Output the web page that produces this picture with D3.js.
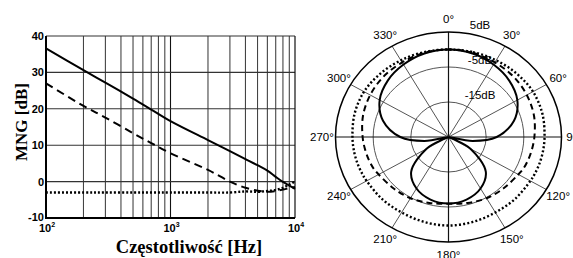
<!DOCTYPE html>
<html>
<head>
<meta charset="utf-8">
<script src="https://cdn.jsdelivr.net/npm/d3@7"></script>
<style>
  body { margin: 0; background: #fff; }
  svg { display: block; }
  .tick_lbl { font-family: "Liberation Sans", Arial, sans-serif; font-weight: bold; font-size: 11px; }
  .pol_lbl { font-family: "Liberation Sans", Arial, sans-serif; font-size: 11.5px; }
  .title { font-family: "Liberation Serif", "Times New Roman", serif; font-weight: bold; }
</style>
</head>
<body>
<svg id="chart" width="573" height="258"></svg>
<script>
// ---- frequency response (left) ----
var freqs = [100, 200, 300, 500, 700, 1000, 2000, 3000, 4000, 5000, 6000, 7000, 8000, 9000, 10000];
var solid_db = [36.6, 30.6, 27.2, 22.8, 19.8, 16.6, 11.4, 8.4, 6.2, 4.5, 3.0, 1.3, -0.1, -1.1, -2.0];
var dashed_db = [27.0, 20.8, 17.6, 13.3, 10.6, 7.8, 3.2, 0.0, -1.7, -2.5, -2.8, -2.6, -2.2, -1.8, -1.5];
var dotted_db = [-3.0, -3.0, -3.0, -3.0, -3.0, -3.0, -3.0, -3.0, -2.7, -2.8, -2.6, -2.3, -1.7, -0.8, 0.0];
var y_ticks = [40, 30, 20, 10, 0, -10];
var x_decades = [2, 3, 4];

// ---- polar pattern (right), half pattern 0..180 deg, mirrored ----
var pol_angles = [0, 15, 30, 45, 60, 75, 90, 100, 108, 115, 120, 135, 150, 165, 180];
var pol_solid = [0, -0.3, -1.1, -2.2, -3.9, -7.0, -12.2, -18.5, -25, -23.5, -18.2, -11.0, -8.0, -6.5, -6.0];
var pol_dashed = [0, -0.1, -0.4, -0.6, -1.0, -1.5, -2.2, -2.6, -2.9, -3.2, -3.6, -4.3, -4.8, -5.5, -5.9];
var pol_dotted = [0, 0.1, 0.3, 0.6, 0.9, 0.8, 0.5, 0.4, 0.3, 0.2, 0.1, 0.0, -0.1, 0.1, 0.3];
var ring_db = [-15, -5, 5];
var ring_labels = ["-15dB", "-5dB", "5dB"];
var spoke_angles = d3.range(0, 360, 30);

var svg = d3.select("#chart");

// ================= left chart =================
var x = d3.scaleLog().domain([100, 10000]).range([46, 295]);
var y = d3.scaleLinear().domain([-10, 40]).range([218, 36]);

var left = svg.append("g").attr("class", "left_plot");

// vertical grid on every 1..9 x decade
var vgrid = [];
for (var p = 100; p < 10000; p *= 10) {
    for (var m = 2; m <= 9; m++) vgrid.push(p * m);
}
vgrid.push(1000);
left.selectAll("line.vgrid").data(vgrid)
    .enter().append("line")
    .attr("class", "vgrid")
    .attr("x1", function (d) { return x(d); })
    .attr("x2", function (d) { return x(d); })
    .attr("y1", y(40)).attr("y2", y(-10))
    .style("stroke", function (d) { return d === 1000 ? "#111" : "#444"; })
    .style("stroke-width", 1.1);

left.selectAll("line.hgrid").data(y_ticks)
    .enter().append("line")
    .attr("class", "hgrid")
    .attr("x1", x(100)).attr("x2", x(10000))
    .attr("y1", function (d) { return y(d); })
    .attr("y2", function (d) { return y(d); })
    .style("stroke", "#333")
    .style("stroke-width", 1.1);

// frame
left.append("line").attr("x1", x(10000)).attr("x2", x(10000)).attr("y1", y(40)).attr("y2", y(-10))
    .style("stroke", "#111").style("stroke-width", 1.2);
left.append("line").attr("x1", x(100)).attr("x2", x(100)).attr("y1", y(40)).attr("y2", y(-10))
    .style("stroke", "#000").style("stroke-width", 2);
left.append("line").attr("x1", x(100) - 1).attr("x2", x(10000)).attr("y1", y(-10)).attr("y2", y(-10))
    .style("stroke", "#000").style("stroke-width", 2);

// y tick labels
left.selectAll("text.ylbl").data(y_ticks)
    .enter().append("text")
    .attr("class", "tick_lbl ylbl")
    .attr("x", 44)
    .attr("y", function (d) { return y(d) + (d === -10 ? 3 : 4); })
    .attr("text-anchor", "end")
    .text(function (d) { return d; });

// x tick labels 10^n
var xl = left.selectAll("text.xlbl").data(x_decades)
    .enter().append("text")
    .attr("class", "tick_lbl xlbl")
    .attr("x", function (d) { return x(Math.pow(10, d)) + 1; })
    .attr("y", 232)
    .attr("text-anchor", "middle");
xl.append("tspan").text("10");
xl.append("tspan").attr("dy", -5).style("font-size", "7px").text(function (d) { return d; });

// curves
var fline = d3.line()
    .x(function (d) { return x(d[0]); })
    .y(function (d) { return y(d[1]); })
    .curve(d3.curveCatmullRom);

function freq_series(vals) {
    return freqs.map(function (f, i) { return [f, vals[i]]; });
}

left.append("path").datum(freq_series(dotted_db))
    .attr("d", fline).style("fill", "none").style("stroke", "#000")
    .style("stroke-width", 2.4).style("stroke-dasharray", "2,2");
left.append("path").datum(freq_series(dashed_db))
    .attr("d", fline).style("fill", "none").style("stroke", "#000")
    .style("stroke-width", 2).style("stroke-dasharray", "8,5");
left.append("path").datum(freq_series(solid_db))
    .attr("d", fline).style("fill", "none").style("stroke", "#000")
    .style("stroke-width", 2);

// axis titles
svg.append("text")
    .attr("class", "title")
    .attr("transform", "translate(27,122) rotate(-90)")
    .attr("text-anchor", "middle")
    .style("font-size", "17px")
    .text("MNG [dB]");
svg.append("text")
    .attr("class", "title")
    .attr("x", 189)
    .attr("y", 253)
    .attr("text-anchor", "middle")
    .style("font-size", "18.5px")
    .text("Częstotliwość [Hz]");

// ================= polar chart =================
var cx = 448.5, cy = 137;
var r = d3.scaleLinear().domain([-25, 5]).range([0, 105]);
var sx = 113 / 105;   // the original is slightly wider than tall
var R = r(5);

function px(db, a) { return cx + r(db) * sx * Math.sin(a * Math.PI / 180); }
function py(db, a) { return cy - r(db) * Math.cos(a * Math.PI / 180); }

var pol = svg.append("g").attr("class", "polar");

pol.selectAll("ellipse.ring").data(ring_db.slice(0, 2))
    .enter().append("ellipse")
    .attr("class", "ring")
    .attr("cx", cx).attr("cy", cy)
    .attr("rx", function (d) { return r(d) * sx; })
    .attr("ry", function (d) { return r(d); })
    .style("fill", "none").style("stroke", "#555").style("stroke-width", 1);

pol.selectAll("line.spoke").data(spoke_angles)
    .enter().append("line")
    .attr("class", "spoke")
    .attr("x1", cx).attr("y1", cy)
    .attr("x2", function (d) { return px(5, d); })
    .attr("y2", function (d) { return py(5, d); })
    .style("stroke", function (d) { return d % 90 === 0 ? "#111" : "#555"; })
    .style("stroke-width", function (d) { return d % 90 === 0 ? 1.2 : 1; });

pol.append("ellipse")
    .attr("cx", cx).attr("cy", cy)
    .attr("rx", R * sx).attr("ry", R)
    .style("fill", "none").style("stroke", "#000").style("stroke-width", 1.5);

// angle labels
pol.selectAll("text.ang").data(spoke_angles)
    .enter().append("text")
    .attr("class", "pol_lbl ang")
    .attr("x", function (d) { return cx + R * 1.12 * sx * Math.sin(d * Math.PI / 180); })
    .attr("y", function (d) { return cy - R * 1.12 * Math.cos(d * Math.PI / 180) + 4; })
    .attr("text-anchor", "middle")
    .text(function (d) { return d + "°"; });

// pattern curves
function full_pattern(vals) {
    var pts = pol_angles.map(function (a, i) { return [a, vals[i]]; });
    for (var i = pol_angles.length - 2; i > 0; i--) {
        pts.push([360 - pol_angles[i], vals[i]]);
    }
    return pts;
}
var pline = d3.line()
    .x(function (d) { return px(d[1], d[0]); })
    .y(function (d) { return py(d[1], d[0]); })
    .curve(d3.curveCatmullRomClosed);

pol.append("path").datum(full_pattern(pol_dotted))
    .attr("d", pline).style("fill", "none").style("stroke", "#000")
    .style("stroke-width", 2.4).style("stroke-dasharray", "2,2.2");
pol.append("path").datum(full_pattern(pol_dashed))
    .attr("d", pline).style("fill", "none").style("stroke", "#000")
    .style("stroke-width", 2).style("stroke-dasharray", "6,4");
pol.append("path").datum(full_pattern(pol_solid))
    .attr("d", pline).style("fill", "none").style("stroke", "#000")
    .style("stroke-width", 2);

// ring labels
pol.selectAll("text.ringlbl").data(ring_db)
    .enter().append("text")
    .attr("class", "pol_lbl ringlbl")
    .attr("x", 480)
    .attr("y", function (d) { return cy - r(d) - 3.5; })
    .attr("text-anchor", "middle")
    .text(function (d, i) { return ring_labels[i]; });
</script>
</body>
</html>
